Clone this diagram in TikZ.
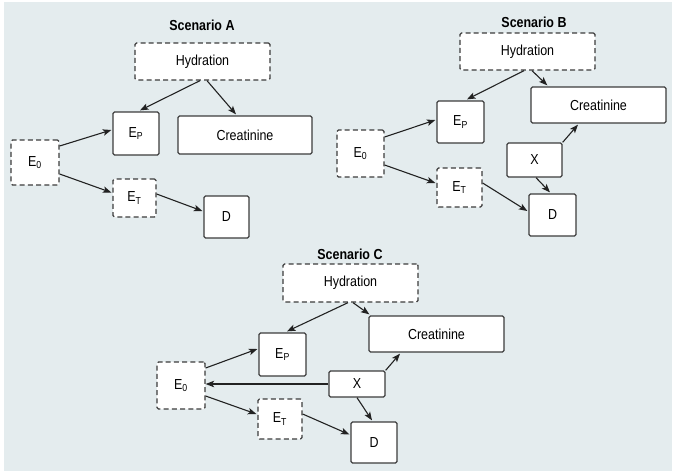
\documentclass[tikz,border=0pt]{standalone}
\usepackage{fontspec}
\setmainfont{Liberation Sans}[FakeStretch=0.86]
\usetikzlibrary{arrows.meta,calc}
\definecolor{bgc}{HTML}{E4ECEE}
\definecolor{edgec}{HTML}{3C3C3C}
\definecolor{arrc}{HTML}{222222}
\begin{document}
\begin{tikzpicture}[x=1pt,y=-1pt,
  box/.style={draw=edgec,fill=white,line width=1.3pt,rounded corners=1.5pt,inner sep=0pt,
    font=\fontsize{14.5}{16}\selectfont,text=black},
  dbox/.style={box,dash pattern=on 5pt off 3.2pt},
  ttl/.style={font=\fontsize{14.5}{16}\selectfont\bfseries,inner sep=0pt},
  arr/.style={draw=arrc,line width=1.1pt,-{Stealth[length=8.5pt,width=6.5pt,inset=2pt]}}]
\useasboundingbox (0,0) rectangle (675,475);
\fill[white] (0,0) rectangle (675,475);
\fill[bgc] (4,2) rectangle (672,471);
% ---------- Scenario A
\node[ttl] (tA) at (202,25) {Scenario A};
\node[dbox,minimum width=135pt,minimum height=37pt] (hydA) at (202.5,61.5) {Hydration};
\node[box,minimum width=46pt,minimum height=43pt] (epA) at (136,133.5) {E\textsubscript{P}};
\node[box,minimum width=134pt,minimum height=38pt] (crA) at (245,135) {Creatinine};
\node[dbox,minimum width=48pt,minimum height=45pt] (e0A) at (35,162.5) {E\textsubscript{0}};
\node[dbox,minimum width=43pt,minimum height=38pt] (etA) at (134.5,198) {E\textsubscript{T}};
\node[box,minimum width=45pt,minimum height=42pt] (dA) at (226.5,217) {D};
\draw[arr] ($(hydA.south)+(-2.5,0)$) -- ($(epA.north)+(4,-1)$);
\draw[arr] ($(hydA.south)+(4.5,0)$) -- ($(crA.north)+(-9,-1)$);
\draw[arr] ($(e0A.east)+(0,-16.5)$) -- ($(epA.west)+(-1,-3.5)$);
\draw[arr] ($(e0A.east)+(0,11.5)$) -- ($(etA.west)+(-1,-5.5)$);
\draw[arr] ($(etA.east)+(0,-4)$) -- ($(dA.west)+(-1,-6)$);
% ---------- Scenario B
\node[ttl] (tB) at (534,22) {Scenario B};
\node[dbox,minimum width=135pt,minimum height=37pt] (hydB) at (527.5,51.5) {Hydration};
\node[box,minimum width=47pt,minimum height=42pt] (epB) at (460.5,122) {E\textsubscript{P}};
\node[box,minimum width=135pt,minimum height=36pt] (crB) at (598.5,105) {Creatinine};
\node[dbox,minimum width=47pt,minimum height=47pt] (e0B) at (360.5,153.5) {E\textsubscript{0}};
\node[dbox,minimum width=45pt,minimum height=39pt] (etB) at (459.5,187.5) {E\textsubscript{T}};
\node[box,minimum width=55pt,minimum height=34pt] (xB) at (534.5,160) {X};
\node[box,minimum width=47pt,minimum height=42pt] (dB) at (552.5,215) {D};
\draw[arr] ($(hydB.south)+(-3.5,0)$) -- ($(epB.north)+(6.5,-1)$);
\draw[arr] ($(hydB.south)+(4.5,0)$) -- ($(crB.north west)+(17,-1)$);
\draw[arr] ($(e0B.east)+(0,-16.5)$) -- ($(epB.west)+(-1,-2)$);
\draw[arr] ($(e0B.east)+(0,11.5)$) -- ($(etB.west)+(-1,-4.5)$);
\draw[arr] ($(etB.east)+(0,-4.5)$) -- ($(dB.west)+(-1,-4)$);
\draw[arr] (xB.north east) -- ($(crB.south)+(-20.5,1)$);
\draw[arr] ($(xB.south)+(1.5,0)$) -- ($(dB.north)+(-2.5,-1)$);
% ---------- Scenario C
\node[ttl] (tC) at (350,254) {Scenario C};
\node[dbox,minimum width=135pt,minimum height=38pt] (hydC) at (350.5,283) {Hydration};
\node[box,minimum width=47pt,minimum height=43pt] (epC) at (282.5,354.5) {E\textsubscript{P}};
\node[box,minimum width=135pt,minimum height=36pt] (crC) at (436.5,334) {Creatinine};
\node[dbox,minimum width=48pt,minimum height=47pt] (e0C) at (181,385.5) {E\textsubscript{0}};
\node[box,minimum width=56pt,minimum height=26pt] (xC) at (357,384) {X};
\node[dbox,minimum width=44pt,minimum height=40pt] (etC) at (280,419) {E\textsubscript{T}};
\node[box,minimum width=46pt,minimum height=41pt] (dC) at (374,442.5) {D};
\draw[arr] ($(hydC.south)+(-2.5,0)$) -- ($(epC.north)+(4.5,-1)$);
\draw[arr] ($(hydC.south)+(2.5,0)$) -- ($(crC.north west)+(1,-1)$);
\draw[arr] ($(e0C.east)+(0,-17.5)$) -- ($(epC.west)+(-1,-5.5)$);
\draw[arr] ($(e0C.east)+(0,10.5)$) -- ($(etC.west)+(-1,-5)$);
\draw[arr] ($(etC.east)+(0,-5)$) -- ($(dC.west)+(-1,-8)$);
\draw[arr] (xC.west) -- ($(e0C.east)+(0,-1.5)$);
\draw[arr] (xC.north east) -- ($(crC.south)+(-36.5,1)$);
\draw[arr] (xC.south) -- ($(dC.north)+(-2,-1)$);
\end{tikzpicture}
\end{document}
